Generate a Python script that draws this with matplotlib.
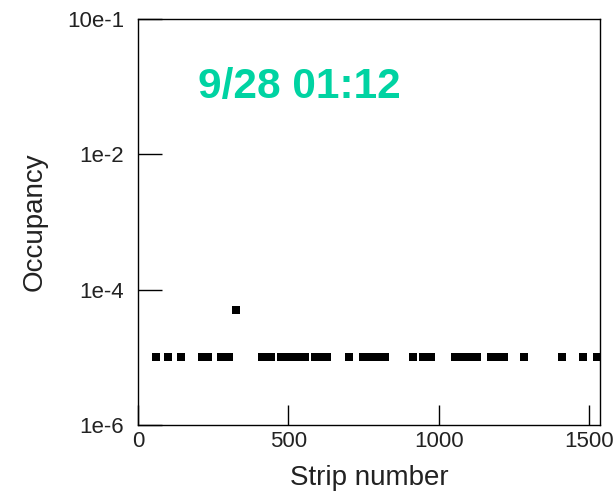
import numpy as np
import matplotlib
matplotlib.use('Agg')
import matplotlib.pyplot as plt
from matplotlib.ticker import FixedLocator, FixedFormatter

# Tiras con ocupancia registrada
tiras = [59, 101, 142, 212, 232, 277, 289, 301, 413, 428, 442,
         476, 502, 529, 555, 588, 608, 627, 702, 748, 772, 797, 821,
         913, 947, 973, 1053, 1078, 1103, 1128, 1175, 1196, 1217,
         1284, 1409, 1478, 1525]
ocupancia = [1e-5] * len(tiras)

# Tira con ocupancia alta
tira_alta = [325]
ocupancia_alta = [5e-5]

y_ticks = [1e-6, 1e-4, 1e-2, 1]
y_labels = ['1e-6', '1e-4', '1e-2', '10e-1']
x_ticks = [0, 500, 1000, 1500]
titulo = '9/28 01:12'

plt.rcParams['font.family'] = ['Liberation Sans', 'DejaVu Sans']

fig = plt.figure(figsize=(6.16, 4.93), dpi=100)
ax = fig.add_axes([0.224, 0.138, 0.75, 0.824])

ax.plot(tiras, ocupancia, 's', color='black', markersize=5.8, markeredgewidth=0)
ax.plot(tira_alta, ocupancia_alta, 's', color='black', markersize=5.8, markeredgewidth=0)

ax.set_yscale('log')
ax.set_ylim(1e-6, 1)
ax.set_xlim(0, 1536)

ax.yaxis.set_major_locator(FixedLocator(y_ticks))
ax.yaxis.set_major_formatter(FixedFormatter(y_labels))
ax.yaxis.set_minor_locator(FixedLocator([]))
ax.set_xticks(x_ticks)
ax.set_xticklabels([str(v) for v in x_ticks])

ax.tick_params(axis='y', direction='in', length=17, width=1, labelsize=16,
               pad=10, labelcolor='#222222')
ax.tick_params(axis='x', direction='in', length=14.5, width=1, labelsize=16,
               pad=4, labelcolor='#222222')
for s in ax.spines.values():
    s.set_linewidth(1.0)

ax.set_xlabel('Strip number', fontsize=20, color='#222222', labelpad=10)
ax.set_ylabel('Occupancy', fontsize=20, color='#222222', labelpad=14)

ax.text(0.13, 0.832, titulo, transform=ax.transAxes, fontsize=30.5,
        fontweight='bold', color='#00D3A2', ha='left', va='center')

fig.savefig('out.png', dpi=100)
